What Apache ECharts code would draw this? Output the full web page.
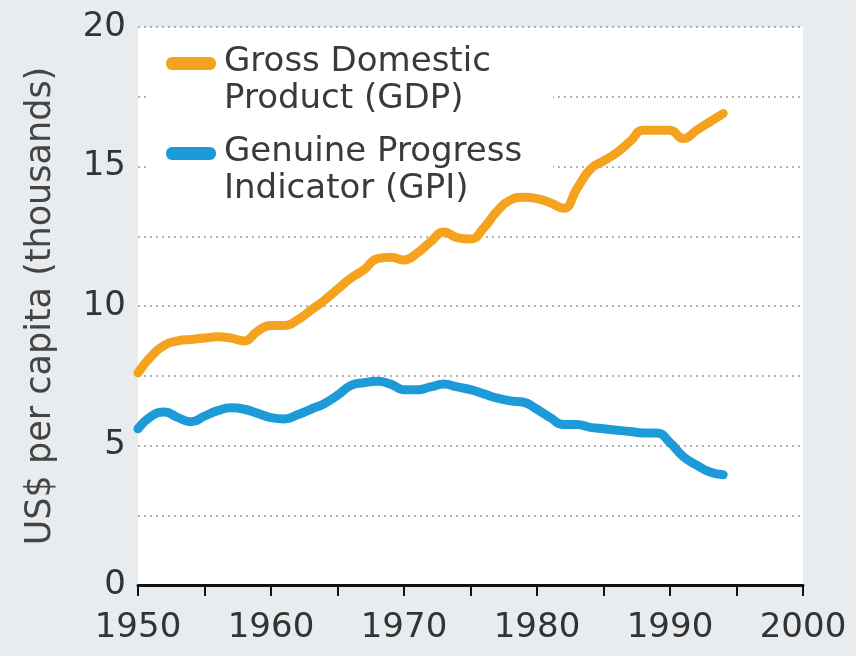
<!DOCTYPE html>
<html>
<head>
<meta charset="utf-8">
<style>
  html, body { margin: 0; padding: 0; background: #e9ecef; }
  #chart { width: 856px; height: 656px; }
</style>
<script src="https://cdn.jsdelivr.net/npm/echarts@6/dist/echarts.min.js"></script>
</head>
<body>
<div id="chart"></div>
<script>
// years 1950..1994
var years = [1950, 1951, 1952, 1953, 1954, 1955, 1956, 1957, 1958, 1959,
             1960, 1961, 1962, 1963, 1964, 1965, 1966, 1967, 1968, 1969,
             1970, 1971, 1972, 1973, 1974, 1975, 1976, 1977, 1978, 1979,
             1980, 1981, 1982, 1983, 1984, 1985, 1986, 1987, 1988, 1989,
             1990, 1991, 1992, 1993, 1994];
// US$ per capita (thousands)
var gdp = [7.6, 8.2, 8.6, 8.75, 8.8, 8.85, 8.9, 8.85, 8.75, 9.1,
           9.3, 9.3, 9.5, 9.85, 10.2, 10.6, 11.0, 11.3, 11.7, 11.75,
           11.65, 11.9, 12.3, 12.65, 12.45, 12.4, 12.8, 13.4, 13.8, 13.9,
           13.85, 13.7, 13.5, 14.2, 14.9, 15.2, 15.5, 15.9, 16.3, 16.3,
           16.3, 16.0, 16.3, 16.6, 16.9];
var gpi = [5.6, 6.05, 6.2, 6.0, 5.85, 6.05, 6.25, 6.35, 6.3, 6.15,
           6.0, 5.95, 6.1, 6.3, 6.5, 6.8, 7.15, 7.25, 7.3, 7.2,
           7.0, 7.0, 7.1, 7.2, 7.1, 7.0, 6.85, 6.7, 6.6, 6.55,
           6.3, 6.0, 5.75, 5.75, 5.65, 5.6, 5.55, 5.5, 5.45, 5.45,
           5.1, 4.6, 4.3, 4.05, 3.95];
var seriesNames = ['Gross Domestic\nProduct (GDP)', 'Genuine Progress\nIndicator (GPI)'];
var colors = ['#f5a21f', '#1c9bd8'];

function pairs(vals) {
    return years.map(function (y, i) { return [y, vals[i]]; });
}

var myChart = echarts.init(document.getElementById('chart'));
var font = 'DejaVu Sans';

var option = {
    backgroundColor: '#e9ecef',
    animation: false,
    textStyle: { fontFamily: font },
    grid: {
        left: 138,
        right: 53,
        top: 27,
        bottom: 71,
        show: true,
        backgroundColor: '#ffffff',
        borderWidth: 0
    },
    xAxis: {
        type: 'value',
        min: 1950,
        max: 2000,
        interval: 5,
        axisLine: { lineStyle: { color: '#111', width: 3 } },
        axisTick: { length: 11, lineStyle: { color: '#111', width: 2 } },
        splitLine: { show: false },
        axisLabel: {
            color: '#333',
            fontSize: 34,
            fontFamily: font,
            margin: 26,
            formatter: function (v) { return v % 10 === 0 ? v : ''; }
        }
    },
    yAxis: {
        type: 'value',
        min: 0,
        max: 20,
        interval: 2.5,
        name: 'US$ per capita (thousands)',
        nameLocation: 'middle',
        nameGap: 80,
        nameTextStyle: { color: '#444', fontSize: 35, fontFamily: font },
        axisLine: { show: false },
        axisTick: { show: false },
        axisLabel: {
            color: '#333',
            fontSize: 34,
            fontFamily: font,
            margin: 12,
            formatter: function (v) { return v % 5 === 0 ? v : ''; }
        },
        splitLine: {
            lineStyle: { color: '#9a9a9a', width: 1.5, type: [2, 4] }
        }
    },
    graphic: [
        // legend box, under the lines but over the grid lines
        { type: 'rect', left: 149, top: 40, z: 1,
          shape: { width: 404, height: 180 }, style: { fill: '#ffffff' } },
        { type: 'rect', left: 166, top: 57, z: 11,
          shape: { width: 50, height: 13, r: 6 }, style: { fill: colors[0] } },
        { type: 'text', left: 224, top: 44, z: 11,
          style: { text: seriesNames[0], font: '34px "DejaVu Sans"', lineHeight: 37, fill: '#3a3a3a' } },
        { type: 'rect', left: 166, top: 147, z: 11,
          shape: { width: 50, height: 13, r: 6 }, style: { fill: colors[1] } },
        { type: 'text', left: 224, top: 134, z: 11,
          style: { text: seriesNames[1], font: '34px "DejaVu Sans"', lineHeight: 37, fill: '#3a3a3a' } }
    ],
    series: [
        {
            name: seriesNames[0],
            type: 'line',
            data: pairs(gdp),
            smooth: true,
            showSymbol: false,
            lineStyle: { color: colors[0], width: 9, cap: 'round', join: 'round' },
            z: 3
        },
        {
            name: seriesNames[1],
            type: 'line',
            data: pairs(gpi),
            smooth: true,
            showSymbol: false,
            lineStyle: { color: colors[1], width: 9, cap: 'round', join: 'round' },
            z: 3
        }
    ]
};

myChart.setOption(option);
window.addEventListener('resize', function () {
    myChart.resize();
});
</script>
</body>
</html>
